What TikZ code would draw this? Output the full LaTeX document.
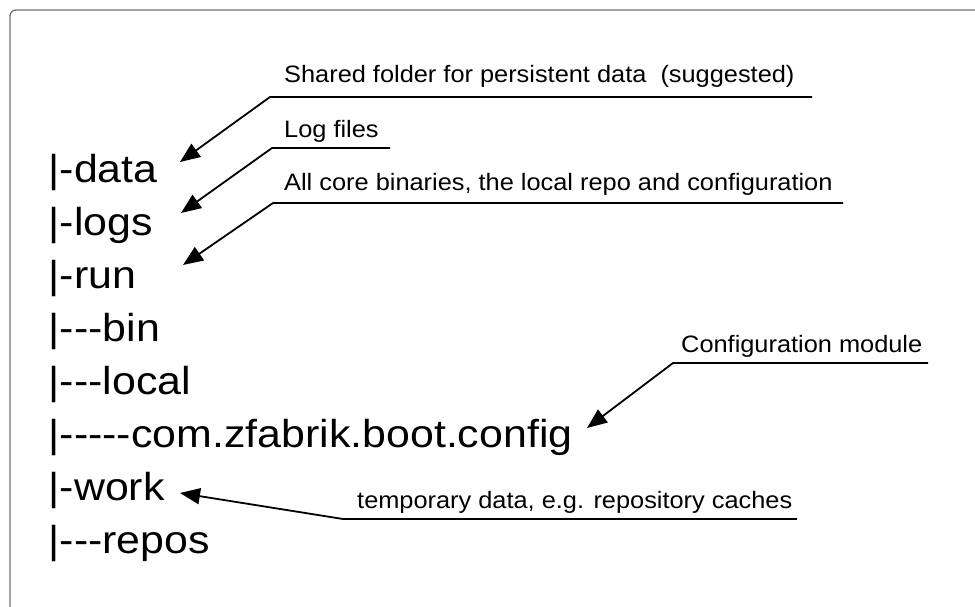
\documentclass[tikz,border=0pt]{standalone}
\usepackage{fontspec}
\setmainfont{Liberation Sans}
\newfontfamily\treefont[FakeStretch=1.1]{Liberation Sans}
\newfontfamily\notefont[FakeStretch=1.07]{Liberation Sans}
\usetikzlibrary{arrows.meta}
\definecolor{frame}{HTML}{707070}
\tikzset{
  entry/.style={anchor=base west, inner sep=0pt, font=\treefont\fontsize{39}{39}\selectfont},
  note/.style={anchor=base west, inner sep=0pt, font=\notefont\fontsize{23.7}{23.7}\selectfont},
  pointer/.style={draw=black, line width=1.8pt, line join=miter,
    -{Triangle[length=20pt,width=16pt]}},
}
\begin{document}
\begin{tikzpicture}[x=1pt, y=-1pt]
  \useasboundingbox (0,0) rectangle (975,606);
  % outer frame (only the top and left edges fall inside the page)
  \draw[frame, line width=1.3pt, rounded corners=6pt] (10,640) -- (10,10) -- (1000,10);

  % directory tree
  \node[entry] (data)  at (48.5,182) {|-data};
  \node[entry] (logs)  at (48.5,235) {|-logs};
  \node[entry] (run)   at (48.5,288) {|-run};
  \node[entry] (bin)   at (48.5,341) {|---bin};
  \node[entry] (local) at (48.5,394) {|---local};
  \node[entry] (boot)  at (48.5,447) {|-----com.zfabrik.boot.config};
  \node[entry] (work)  at (48.5,500) {|-work};
  \node[entry] (repos) at (48.5,553) {|---repos};

  % annotations
  \node[note] (nshared) at (284,82)  {Shared folder for persistent data~ (suggested)};
  \node[note] (nlogs)   at (284,137) {Log files};
  \node[note] (nrun)    at (284,190) {All core binaries, the local repo and configuration};
  \node[note] (nconf)   at (681,352) {Configuration module};
  \node[note] (nwork)   at (357,508) {temporary data, e.g. repository caches};

  % underline ends and arrow tips
  \coordinate (s1) at (812,97);  \coordinate (k1) at (270,97);  \coordinate (t1) at (180,162);
  \coordinate (s2) at (390,148); \coordinate (k2) at (272,148); \coordinate (t2) at (181,213);
  \coordinate (s3) at (843,203); \coordinate (k3) at (273,203); \coordinate (t3) at (183,265);
  \coordinate (s4) at (928,363); \coordinate (k4) at (673,363); \coordinate (t4) at (587,428);
  \coordinate (s5) at (797,519); \coordinate (k5) at (343,519); \coordinate (t5) at (180,493);

  \draw[pointer] (s1) -- (k1) -- (t1);
  \draw[pointer] (s2) -- (k2) -- (t2);
  \draw[pointer] (s3) -- (k3) -- (t3);
  \draw[pointer] (s4) -- (k4) -- (t4);
  \draw[pointer] (s5) -- (k5) -- (t5);
\end{tikzpicture}
\end{document}
